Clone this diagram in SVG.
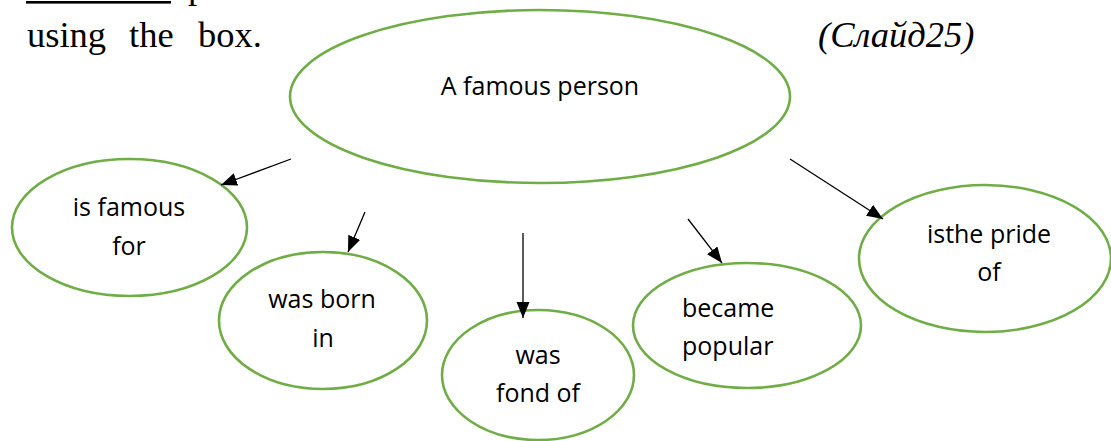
<svg xmlns="http://www.w3.org/2000/svg" width="1111" height="441" viewBox="0 0 1111 441">
<style>
.node ellipse{fill:#fff;stroke:#70AD47;stroke-width:2.6}
.lbl{font-family:"Open Sans","Noto Sans","Liberation Sans",sans-serif;font-size:25px;fill:#000;text-anchor:middle}
.lbl.left{text-anchor:start}
.serif{font-family:"Liberation Serif","Times New Roman",serif;font-size:36.5px;fill:#000}
.conn line{stroke:#000;stroke-width:1.3;marker-end:url(#ah)}
</style>
<defs>
<marker id="ah" markerUnits="userSpaceOnUse" markerWidth="17" markerHeight="14" refX="16" refY="6.5" orient="auto">
<path d="M0,0 L16,6.5 L0,13 z" fill="#000"/>
</marker>
</defs>
<rect width="1111" height="441" fill="#fff"/>
<g id="header">
<rect x="26" y="1" width="145" height="2.6" fill="#000"/>
<text class="serif" x="188" y="-2">p</text>
<text class="serif" y="47"><tspan x="27">using</tspan><tspan x="129">the</tspan><tspan x="198">box.</tspan></text>
<text class="serif" x="818" y="47" font-style="italic">(Слайд25)</text>
</g>
<g id="node-main" class="node">
<ellipse cx="540" cy="96.5" rx="250" ry="86.5"/>
<text class="lbl" x="540" y="95">A famous person</text>
</g>
<g id="node-famous-for" class="node">
<ellipse cx="129.5" cy="227.5" rx="117.5" ry="68.5"/>
<text class="lbl" x="129" y="216">is famous</text>
<text class="lbl" x="129" y="255">for</text>
</g>
<g id="node-born-in" class="node">
<ellipse cx="323" cy="320.5" rx="104" ry="68.5"/>
<text class="lbl" x="322" y="308">was born</text>
<text class="lbl" x="323" y="347">in</text>
</g>
<g id="node-fond-of" class="node">
<ellipse cx="538" cy="375" rx="96" ry="65"/>
<text class="lbl" x="538" y="364">was</text>
<text class="lbl" x="538" y="402">fond of</text>
</g>
<g id="node-popular" class="node">
<ellipse cx="747" cy="325.5" rx="114" ry="62.5"/>
<text class="lbl left" x="682" y="317">became</text>
<text class="lbl left" x="682" y="355">popular</text>
</g>
<g id="node-pride" class="node">
<ellipse cx="985" cy="258.5" rx="126" ry="73.5"/>
<text class="lbl" x="989" y="243">isthe pride</text>
<text class="lbl" x="989" y="281">of</text>
</g>
<g id="connectors" class="conn">
<line x1="291" y1="159" x2="221" y2="185"/>
<line x1="365" y1="212" x2="348" y2="252"/>
<line x1="523" y1="233" x2="523" y2="318" style="stroke-width:1.6;stroke:#333"/>
<line x1="688" y1="219" x2="722" y2="263"/>
<line x1="790" y1="159" x2="883" y2="219"/>
</g>
</svg>
